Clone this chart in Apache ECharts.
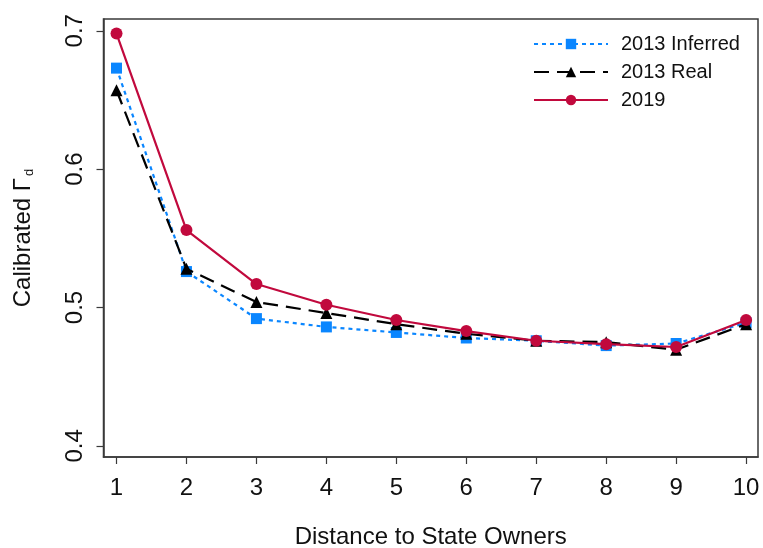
<!DOCTYPE html>
<html>
<head>
<meta charset="utf-8">
<script src="https://cdn.jsdelivr.net/npm/echarts@6/dist/echarts.min.js"></script>
<style>html,body{margin:0;padding:0;background:#fff;}#c{width:763px;height:548px;}</style>
</head>
<body>
<div id="c"></div>
<script>
var distances = [1, 2, 3, 4, 5, 6, 7, 8, 9, 10];
var inferred2013 = [0.673, 0.526, 0.492, 0.486, 0.482, 0.478, 0.476, 0.4725, 0.474, 0.489];
var real2013 = [0.657, 0.528, 0.504, 0.496, 0.488, 0.481, 0.476, 0.475, 0.4695, 0.488];
var values2019 = [0.698, 0.556, 0.517, 0.502, 0.491, 0.483, 0.476, 0.4735, 0.4715, 0.491];
var yTicks = [0.4, 0.5, 0.6, 0.7];
var seriesNames = ['2013 Inferred', '2013 Real', '2019'];

function pairs(v) { return distances.map(function (d, i) { return [d, v[i]]; }); }

var FONT = 'Liberation Sans, Arial, sans-serif';
var chart = echarts.init(document.getElementById('c'), null, {renderer: 'canvas'});
chart.setOption({
  animation: false,
  backgroundColor: '#ffffff',
  textStyle: {fontFamily: FONT},
  grid: {left: 103.5, right: 5, top: 19, bottom: 91, show: true, borderColor: '#3a3a3a', borderWidth: 1.5,
         containLabel: false, outerBoundsMode: 'none'},
  legend: {
    orient: 'vertical', left: 528, top: 29,
    itemWidth: 74, itemHeight: 13, itemGap: 8,
    textStyle: {fontSize: 20, color: '#111', fontFamily: FONT, lineHeight: 20, padding: [0, 0, 0, 8]},
    data: seriesNames
  },
  xAxis: {
    type: 'value', min: 0.814, max: 10.17,
    name: 'Distance to State Owners', nameLocation: 'middle', nameGap: 68,
    nameTextStyle: {fontSize: 24, color: '#111', fontFamily: FONT},
    axisLine: {show: true, onZero: false, lineStyle: {color: '#3a3a3a', width: 1.5}},
    axisTick: {show: true, length: 7, customValues: distances, lineStyle: {color: '#3a3a3a', width: 1.2}},
    axisLabel: {fontSize: 24, color: '#111', margin: 19, customValues: distances, fontFamily: FONT},
    splitLine: {show: false}
  },
  yAxis: {
    type: 'value', min: 0.392, max: 0.7085,
    name: '{m|Calibrated Γ}{sub|d}', nameLocation: 'middle', nameGap: 68,
    nameTextStyle: {fontSize: 24, color: '#111', fontFamily: FONT,
      rich: {m: {fontSize: 24, color: '#111', fontFamily: FONT}, sub: {fontSize: 13, color: '#111', fontFamily: FONT, verticalAlign: 'bottom', padding: [10, 0, 0, 2]}}},
    axisLine: {show: true, onZero: false, lineStyle: {color: '#3a3a3a', width: 1.5}},
    axisTick: {show: true, length: 7, customValues: yTicks, lineStyle: {color: '#3a3a3a', width: 1.2}},
    axisLabel: {fontSize: 24, color: '#111', rotate: 90, margin: 16, customValues: yTicks, fontFamily: FONT,
      formatter: function (v) { return v.toFixed(1); }},
    splitLine: {show: false}
  },
  series: [
    {name: seriesNames[0], type: 'line', data: pairs(inferred2013), symbol: 'rect', symbolSize: 11,
     itemStyle: {color: '#0a86ff'}, lineStyle: {color: '#0a86ff', width: 2.2, type: [4, 4]}, z: 2},
    {name: seriesNames[1], type: 'line', data: pairs(real2013), symbol: 'triangle', symbolSize: 12,
     itemStyle: {color: '#000000'}, lineStyle: {color: '#000000', width: 2.2, type: [15, 8]}, z: 3},
    {name: seriesNames[2], type: 'line', data: pairs(values2019), symbol: 'circle', symbolSize: 12,
     itemStyle: {color: '#c1093d'}, lineStyle: {color: '#c1093d', width: 2.2, type: 'solid'}, z: 4}
  ]
});
</script>
</body>
</html>
